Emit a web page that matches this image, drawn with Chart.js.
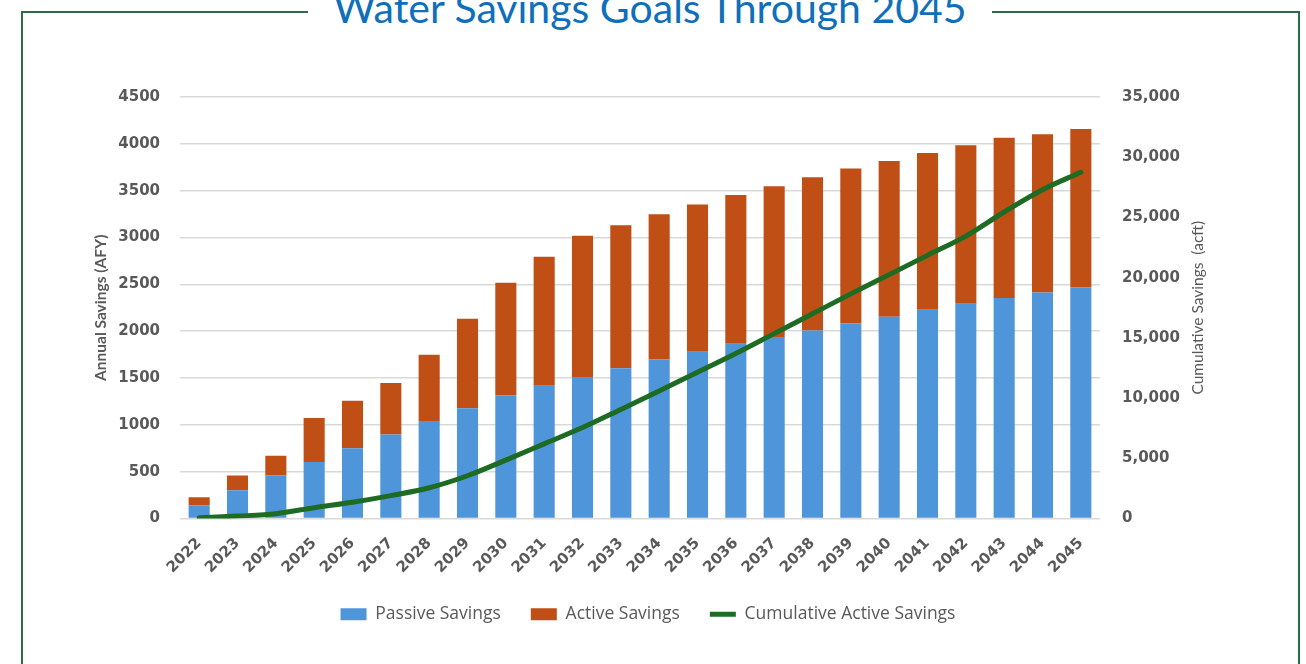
<!DOCTYPE html>
<html>
<head>
<meta charset="utf-8">
<script src="https://cdn.jsdelivr.net/npm/chart.js@4"></script>
<style>
  html, body { margin: 0; padding: 0; background: #fff; }
  body { width: 1306px; height: 664px; position: relative; overflow: hidden; }
  #frame {
    position: absolute; left: 21px; top: 11px; width: 1279px; height: 700px;
    border: 2px solid #2f6a47; box-sizing: border-box;
  }
  #title {
    position: absolute; left: 308px; width: 684px; top: -17px;
    text-align: center; background: #fff;
    font-family: Lato, sans-serif; font-size: 41px; color: #0f6fba;
  }
  #wrap { position: absolute; left: 0; top: 0; width: 1306px; height: 664px; }
</style>
</head>
<body>
<div id="frame"></div>
<div id="title">Water Savings Goals Through 2045</div>
<div id="wrap"><canvas id="myChart"></canvas></div>
<script>
const years = ["2022", "2023", "2024", "2025", "2026", "2027", "2028", "2029", "2030", "2031", "2032", "2033",
  "2034", "2035", "2036", "2037", "2038", "2039", "2040", "2041", "2042", "2043", "2044", "2045"];
const passiveSavings = [142, 302, 462, 604, 750, 896, 1041, 1177, 1312, 1418, 1511, 1603,
  1699, 1781, 1866, 1937, 2008, 2083, 2154, 2229, 2293, 2353, 2413, 2467];
const activeSavings = [85, 156, 207, 470, 508, 551, 708, 956, 1205, 1376, 1507, 1529,
  1550, 1571, 1589, 1610, 1635, 1653, 1663, 1674, 1692, 1713, 1689, 1692];
const cumulativeActive = [60, 200, 400, 900, 1350, 1900, 2550, 3550, 4850, 6200, 7550, 9050,
  10580, 12150, 13700, 15350, 17000, 18650, 20250, 21850, 23450, 25450, 27300, 28750];
const leftTicks = [0, 500, 1000, 1500, 2000, 2500, 3000, 3500, 4000, 4500];

const gray = "#595959";
const tickFont = { family: "DejaVu Sans", size: 15, weight: "bold" };

// right axis title reads bottom-to-top like the left one
const rightTitle = {
  id: "rightTitle",
  afterDraw(c) {
    const area = c.chartArea;
    const g = c.ctx;
    g.save();
    g.translate(1198, (area.top + area.bottom) / 2);
    g.rotate(-Math.PI / 2);
    g.fillStyle = gray;
    g.font = "15.5px Lato";
    g.textAlign = "center";
    g.textBaseline = "middle";
    g.fillText("Cumulative Savings  (acft)", 0, 0);
    g.restore();
  },
};

const canvas = document.getElementById("myChart");
const ctx = canvas.getContext("2d");
const chart = new Chart(ctx, {
  type: "bar",
  data: {
    labels: years,
    datasets: [
      {
        label: "Passive Savings",
        data: passiveSavings,
        backgroundColor: "#4f95d9",
        stack: "s",
        order: 2,
        pointStyle: "rect",
      },
      {
        label: "Active Savings",
        data: activeSavings,
        backgroundColor: "#c04f15",
        stack: "s",
        order: 2,
        pointStyle: "rect",
      },
      {
        type: "line",
        label: "Cumulative Active Savings",
        data: cumulativeActive,
        yAxisID: "y1",
        borderColor: "#1e6b24",
        backgroundColor: "#1e6b24",
        borderWidth: 5,
        borderCapStyle: "round",
        pointRadius: 0,
        cubicInterpolationMode: "monotone",
        order: 0,
        pointStyle: "line",
      },
    ],
  },
  options: {
    responsive: false,
    animation: false,
    layout: { padding: { left: 88, right: 98, top: 97, bottom: 20 } },
    datasets: { bar: { barPercentage: 0.55, categoryPercentage: 1 } },
    plugins: {
      tooltip: { enabled: false },
      legend: {
        position: "bottom",
        labels: {
          usePointStyle: true,
          boxHeight: 12,
          pointStyleWidth: 26,
          padding: 30,
          color: gray,
          font: { family: "Open Sans", size: 17.5 },
          sort: (a, b) => a.datasetIndex - b.datasetIndex,
        },
      },
    },
    scales: {
      x: {
        stacked: true,
        grid: { display: false },
        border: { display: false },
        ticks: { color: gray, font: tickFont, minRotation: 45, maxRotation: 45, padding: 8 },
        afterFit: (scale) => { scale.height = 57; },
      },
      y: {
        stacked: true,
        min: 0,
        max: 4500,
        afterBuildTicks: (scale) => { scale.ticks = leftTicks.map((v) => ({ value: v })); },
        grid: { color: "#d9d9d9", lineWidth: 1.5, drawTicks: false },
        border: { display: false },
        ticks: { color: gray, font: tickFont, padding: 20, callback: (v) => String(v) },
        title: {
          display: true,
          text: "Annual Savings (AFY)",
          color: gray,
          font: { family: "Lato", size: 15.5, weight: "bold" },
          padding: { top: 4, bottom: 0 },
        },
        afterFit: (scale) => { scale.width = 92; },
      },
      y1: {
        position: "right",
        min: 0,
        max: 35000,
        grid: { display: false, drawTicks: false },
        border: { display: false },
        ticks: {
          stepSize: 5000,
          color: gray,
          font: tickFont,
          padding: 22,
          callback: (v) => v.toLocaleString("en-US"),
        },
        afterFit: (scale) => { scale.width = 108; },
      },
    },
  },
  plugins: [rightTitle],
});
canvas.width = 1306;
canvas.height = 664;
chart.resize(1306, 664);
</script>
</body>
</html>
